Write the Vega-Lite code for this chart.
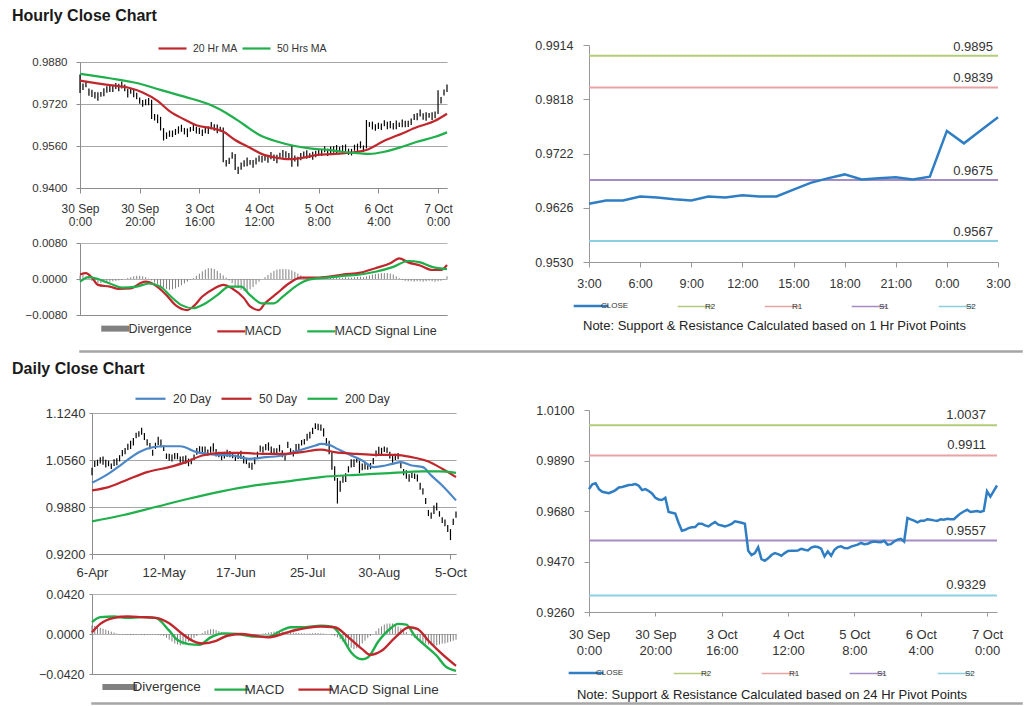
{
"$schema": "https://vega.github.io/schema/vega-lite/v6.json",
"padding": {"left": 12, "top": 8, "right": 2, "bottom": 2},
"background": "white",
"config": {"view": {"stroke": null}, "font": "Liberation Sans",
  "axis": {"domainColor": "#8c8c8c", "tickColor": "#8c8c8c", "labelColor": "#333333", "labelFont": "Liberation Sans"},
  "legend": {"labelFont": "Liberation Sans", "labelColor": "#333333"}},
"datasets": {
"hourly": [
{"i":0,"c":0.9771,"h":0.9832,"l":0.9762,"d":0.0008},{"i":1,"c":0.9791,"h":0.9798,"l":0.9773,"d":0.0010},{"i":2,"c":0.9795,"h":0.9807,"l":0.9784,"d":0.0006},{"i":3,"c":0.9771,"h":0.9779,"l":0.9751,"d":0.0002},{"i":4,"c":0.9760,"h":0.9774,"l":0.9747,"d":-0.0004},{"i":5,"c":0.9757,"h":0.9766,"l":0.9741,"d":-0.0008},{"i":6,"c":0.9754,"h":0.9765,"l":0.9732,"d":-0.0010},{"i":7,"c":0.9760,"h":0.9766,"l":0.9748,"d":-0.0009},{"i":8,"c":0.9767,"h":0.9780,"l":0.9750,"d":-0.0008},{"i":9,"c":0.9778,"h":0.9788,"l":0.9763,"d":-0.0007},
{"i":10,"c":0.9780,"h":0.9790,"l":0.9766,"d":-0.0006},{"i":11,"c":0.9784,"h":0.9791,"l":0.9766,"d":-0.0005},{"i":12,"c":0.9788,"h":0.9800,"l":0.9777,"d":-0.0004},{"i":13,"c":0.9789,"h":0.9797,"l":0.9769,"d":-0.0003},{"i":14,"c":0.9792,"h":0.9806,"l":0.9779,"d":-0.0002},{"i":15,"c":0.9785,"h":0.9794,"l":0.9769,"d":0.0000},{"i":16,"c":0.9767,"h":0.9778,"l":0.9745,"d":0.0002},{"i":17,"c":0.9771,"h":0.9777,"l":0.9759,"d":0.0004},{"i":18,"c":0.9763,"h":0.9776,"l":0.9746,"d":0.0006},{"i":19,"c":0.9753,"h":0.9763,"l":0.9738,"d":0.0007},
{"i":20,"c":0.9735,"h":0.9745,"l":0.9721,"d":0.0007},{"i":21,"c":0.9728,"h":0.9735,"l":0.9710,"d":0.0006},{"i":22,"c":0.9726,"h":0.9738,"l":0.9715,"d":0.0004},{"i":23,"c":0.9735,"h":0.9743,"l":0.9715,"d":0.0001},{"i":24,"c":0.9676,"h":0.9736,"l":0.9663,"d":-0.0003},{"i":25,"c":0.9673,"h":0.9682,"l":0.9657,"d":-0.0008},{"i":26,"c":0.9669,"h":0.9680,"l":0.9647,"d":-0.0012},{"i":27,"c":0.9631,"h":0.9671,"l":0.9619,"d":-0.0016},{"i":28,"c":0.9598,"h":0.9628,"l":0.9581,"d":-0.0019},{"i":29,"c":0.9602,"h":0.9612,"l":0.9587,"d":-0.0022},
{"i":30,"c":0.9609,"h":0.9619,"l":0.9595,"d":-0.0024},{"i":31,"c":0.9612,"h":0.9619,"l":0.9594,"d":-0.0023},{"i":32,"c":0.9613,"h":0.9625,"l":0.9602,"d":-0.0021},{"i":33,"c":0.9627,"h":0.9635,"l":0.9607,"d":-0.0018},{"i":34,"c":0.9627,"h":0.9641,"l":0.9614,"d":-0.0014},{"i":35,"c":0.9620,"h":0.9629,"l":0.9604,"d":-0.0010},{"i":36,"c":0.9616,"h":0.9627,"l":0.9594,"d":-0.0006},{"i":37,"c":0.9626,"h":0.9632,"l":0.9614,"d":-0.0002},{"i":38,"c":0.9634,"h":0.9647,"l":0.9617,"d":0.0002},{"i":39,"c":0.9623,"h":0.9633,"l":0.9608,"d":0.0007},
{"i":40,"c":0.9620,"h":0.9630,"l":0.9606,"d":0.0012},{"i":41,"c":0.9616,"h":0.9623,"l":0.9598,"d":0.0017},{"i":42,"c":0.9620,"h":0.9632,"l":0.9609,"d":0.0021},{"i":43,"c":0.9626,"h":0.9634,"l":0.9606,"d":0.0024},{"i":44,"c":0.9637,"h":0.9651,"l":0.9624,"d":0.0024},{"i":45,"c":0.9634,"h":0.9643,"l":0.9618,"d":0.0022},{"i":46,"c":0.9631,"h":0.9642,"l":0.9609,"d":0.0018},{"i":47,"c":0.9627,"h":0.9633,"l":0.9615,"d":0.0013},{"i":48,"c":0.9515,"h":0.9630,"l":0.9498,"d":0.0008},{"i":49,"c":0.9497,"h":0.9507,"l":0.9482,"d":0.0003},
{"i":50,"c":0.9505,"h":0.9515,"l":0.9491,"d":-0.0003},{"i":51,"c":0.9529,"h":0.9536,"l":0.9511,"d":-0.0009},{"i":52,"c":0.9480,"h":0.9530,"l":0.9469,"d":-0.0015},{"i":53,"c":0.9473,"h":0.9481,"l":0.9453,"d":-0.0020},{"i":54,"c":0.9483,"h":0.9497,"l":0.9470,"d":-0.0024},{"i":55,"c":0.9497,"h":0.9506,"l":0.9481,"d":-0.0027},{"i":56,"c":0.9505,"h":0.9516,"l":0.9483,"d":-0.0026},{"i":57,"c":0.9501,"h":0.9507,"l":0.9489,"d":-0.0023},{"i":58,"c":0.9494,"h":0.9507,"l":0.9477,"d":-0.0018},{"i":59,"c":0.9505,"h":0.9515,"l":0.9490,"d":-0.0012},
{"i":60,"c":0.9514,"h":0.9524,"l":0.9500,"d":-0.0006},{"i":61,"c":0.9515,"h":0.9522,"l":0.9497,"d":0.0000},{"i":62,"c":0.9515,"h":0.9527,"l":0.9504,"d":0.0004},{"i":63,"c":0.9516,"h":0.9524,"l":0.9496,"d":0.0009},{"i":64,"c":0.9523,"h":0.9537,"l":0.9510,"d":0.0014},{"i":65,"c":0.9519,"h":0.9528,"l":0.9503,"d":0.0018},{"i":66,"c":0.9516,"h":0.9527,"l":0.9494,"d":0.0021},{"i":67,"c":0.9528,"h":0.9534,"l":0.9516,"d":0.0022},{"i":68,"c":0.9532,"h":0.9545,"l":0.9515,"d":0.0022},{"i":69,"c":0.9530,"h":0.9540,"l":0.9515,"d":0.0022},
{"i":70,"c":0.9523,"h":0.9533,"l":0.9509,"d":0.0021},{"i":71,"c":0.9491,"h":0.9561,"l":0.9481,"d":0.0019},{"i":72,"c":0.9512,"h":0.9524,"l":0.9501,"d":0.0016},{"i":73,"c":0.9494,"h":0.9519,"l":0.9482,"d":0.0012},{"i":74,"c":0.9519,"h":0.9533,"l":0.9506,"d":0.0008},{"i":75,"c":0.9530,"h":0.9539,"l":0.9514,"d":0.0005},{"i":76,"c":0.9533,"h":0.9544,"l":0.9511,"d":0.0003},{"i":77,"c":0.9526,"h":0.9532,"l":0.9514,"d":0.0002},{"i":78,"c":0.9525,"h":0.9538,"l":0.9508,"d":0.0002},{"i":79,"c":0.9532,"h":0.9542,"l":0.9517,"d":0.0003},
{"i":80,"c":0.9536,"h":0.9546,"l":0.9522,"d":0.0003},{"i":81,"c":0.9540,"h":0.9547,"l":0.9522,"d":0.0004},{"i":82,"c":0.9547,"h":0.9559,"l":0.9536,"d":0.0004},{"i":83,"c":0.9542,"h":0.9550,"l":0.9522,"d":0.0003},{"i":84,"c":0.9544,"h":0.9558,"l":0.9531,"d":0.0003},{"i":85,"c":0.9550,"h":0.9559,"l":0.9534,"d":0.0004},{"i":86,"c":0.9553,"h":0.9564,"l":0.9531,"d":0.0004},{"i":87,"c":0.9551,"h":0.9557,"l":0.9539,"d":0.0003},{"i":88,"c":0.9550,"h":0.9563,"l":0.9533,"d":0.0003},{"i":89,"c":0.9556,"h":0.9566,"l":0.9541,"d":0.0004},
{"i":90,"c":0.9540,"h":0.9550,"l":0.9526,"d":0.0003},{"i":91,"c":0.9542,"h":0.9549,"l":0.9524,"d":0.0003},{"i":92,"c":0.9553,"h":0.9565,"l":0.9542,"d":0.0004},{"i":93,"c":0.9561,"h":0.9569,"l":0.9541,"d":0.0005},{"i":94,"c":0.9564,"h":0.9578,"l":0.9551,"d":0.0005},{"i":95,"c":0.9553,"h":0.9562,"l":0.9537,"d":0.0004},{"i":96,"c":0.9651,"h":0.9659,"l":0.9551,"d":0.0006},{"i":97,"c":0.9645,"h":0.9651,"l":0.9633,"d":0.0008},{"i":98,"c":0.9640,"h":0.9653,"l":0.9623,"d":0.0010},{"i":99,"c":0.9633,"h":0.9643,"l":0.9618,"d":0.0011},
{"i":100,"c":0.9639,"h":0.9649,"l":0.9625,"d":0.0012},{"i":101,"c":0.9639,"h":0.9646,"l":0.9621,"d":0.0013},{"i":102,"c":0.9646,"h":0.9658,"l":0.9635,"d":0.0013},{"i":103,"c":0.9644,"h":0.9652,"l":0.9624,"d":0.0013},{"i":104,"c":0.9641,"h":0.9655,"l":0.9628,"d":0.0012},{"i":105,"c":0.9639,"h":0.9648,"l":0.9623,"d":0.0010},{"i":106,"c":0.9646,"h":0.9657,"l":0.9624,"d":0.0006},{"i":107,"c":0.9644,"h":0.9650,"l":0.9632,"d":0.0002},{"i":108,"c":0.9648,"h":0.9661,"l":0.9631,"d":-0.0002},{"i":109,"c":0.9646,"h":0.9656,"l":0.9631,"d":-0.0004},
{"i":110,"c":0.9646,"h":0.9656,"l":0.9632,"d":-0.0005},{"i":111,"c":0.9658,"h":0.9665,"l":0.9640,"d":-0.0005},{"i":112,"c":0.9670,"h":0.9682,"l":0.9659,"d":-0.0006},{"i":113,"c":0.9678,"h":0.9686,"l":0.9658,"d":-0.0005},{"i":114,"c":0.9685,"h":0.9699,"l":0.9672,"d":-0.0005},{"i":115,"c":0.9676,"h":0.9685,"l":0.9660,"d":-0.0006},{"i":116,"c":0.9678,"h":0.9689,"l":0.9656,"d":-0.0005},{"i":117,"c":0.9680,"h":0.9686,"l":0.9668,"d":-0.0004},{"i":118,"c":0.9676,"h":0.9689,"l":0.9659,"d":-0.0005},{"i":119,"c":0.9681,"h":0.9691,"l":0.9666,"d":-0.0006},
{"i":120,"c":0.9762,"h":0.9772,"l":0.9682,"d":-0.0005},{"i":121,"c":0.9740,"h":0.9747,"l":0.9722,"d":-0.0004},{"i":122,"c":0.9763,"h":0.9775,"l":0.9752,"d":-0.0002},{"i":123,"c":0.9786,"h":0.9794,"l":0.9766,"d":0.0006}
],
"hma": [
{"i":0,"v":0.9809,"s":"20 Hr MA"},{"i":10,"v":0.9792,"s":"20 Hr MA"},{"i":16,"v":0.9783,"s":"20 Hr MA"},{"i":21,"v":0.9764,"s":"20 Hr MA"},{"i":26,"v":0.9732,"s":"20 Hr MA"},{"i":30,"v":0.9693,"s":"20 Hr MA"},{"i":35,"v":0.9661,"s":"20 Hr MA"},{"i":39,"v":0.9639,"s":"20 Hr MA"},{"i":44,"v":0.9628,"s":"20 Hr MA"},{"i":48,"v":0.9615,"s":"20 Hr MA"},{"i":52,"v":0.9583,"s":"20 Hr MA"},{"i":57,"v":0.9553,"s":"20 Hr MA"},{"i":61,"v":0.9529,"s":"20 Hr MA"},{"i":66,"v":0.9515,"s":"20 Hr MA"},{"i":70,"v":0.9510,"s":"20 Hr MA"},{"i":75,"v":0.9516,"s":"20 Hr MA"},{"i":79,"v":0.9525,"s":"20 Hr MA"},{"i":84,"v":0.9529,"s":"20 Hr MA"},{"i":88,"v":0.9532,"s":"20 Hr MA"},{"i":93,"v":0.9538,"s":"20 Hr MA"},{"i":96,"v":0.9545,"s":"20 Hr MA"},{"i":102,"v":0.9580,"s":"20 Hr MA"},{"i":108,"v":0.9608,"s":"20 Hr MA"},{"i":113,"v":0.9632,"s":"20 Hr MA"},{"i":119,"v":0.9656,"s":"20 Hr MA"},{"i":123,"v":0.9683,"s":"20 Hr MA"},
{"i":0,"v":0.9835,"s":"50 Hrs MA"},{"i":10,"v":0.9818,"s":"50 Hrs MA"},{"i":19,"v":0.9800,"s":"50 Hrs MA"},{"i":27,"v":0.9774,"s":"50 Hrs MA"},{"i":35,"v":0.9748,"s":"50 Hrs MA"},{"i":44,"v":0.9715,"s":"50 Hrs MA"},{"i":49,"v":0.9686,"s":"50 Hrs MA"},{"i":55,"v":0.9641,"s":"50 Hrs MA"},{"i":60,"v":0.9603,"s":"50 Hrs MA"},{"i":66,"v":0.9577,"s":"50 Hrs MA"},{"i":72,"v":0.9560,"s":"50 Hrs MA"},{"i":77,"v":0.9551,"s":"50 Hrs MA"},{"i":83,"v":0.9545,"s":"50 Hrs MA"},{"i":88,"v":0.9538,"s":"50 Hrs MA"},{"i":94,"v":0.9532,"s":"50 Hrs MA"},{"i":97,"v":0.9530,"s":"50 Hrs MA"},{"i":102,"v":0.9538,"s":"50 Hrs MA"},{"i":108,"v":0.9557,"s":"50 Hrs MA"},{"i":113,"v":0.9576,"s":"50 Hrs MA"},{"i":119,"v":0.9595,"s":"50 Hrs MA"},{"i":123,"v":0.9612,"s":"50 Hrs MA"}
],
"hmacd": [
{"i":0,"v":0.0010,"s":"MACD"},{"i":2,"v":0.0013,"s":"MACD"},{"i":4,"v":0.0003,"s":"MACD"},{"i":6,"v":-0.0013,"s":"MACD"},{"i":10,"v":-0.0017,"s":"MACD"},{"i":13,"v":-0.0022,"s":"MACD"},{"i":17,"v":-0.0021,"s":"MACD"},{"i":20,"v":-0.0010,"s":"MACD"},{"i":22,"v":-0.0006,"s":"MACD"},{"i":25,"v":-0.0013,"s":"MACD"},{"i":29,"v":-0.0036,"s":"MACD"},{"i":32,"v":-0.0058,"s":"MACD"},{"i":36,"v":-0.0069,"s":"MACD"},{"i":38,"v":-0.0061,"s":"MACD"},{"i":41,"v":-0.0039,"s":"MACD"},{"i":45,"v":-0.0021,"s":"MACD"},{"i":48,"v":-0.0013,"s":"MACD"},{"i":51,"v":-0.0021,"s":"MACD"},{"i":55,"v":-0.0043,"s":"MACD"},{"i":57,"v":-0.0061,"s":"MACD"},{"i":60,"v":-0.0069,"s":"MACD"},{"i":62,"v":-0.0054,"s":"MACD"},{"i":66,"v":-0.0032,"s":"MACD"},{"i":70,"v":-0.0010,"s":"MACD"},{"i":74,"v":0.0003,"s":"MACD"},{"i":77,"v":0.0003,"s":"MACD"},{"i":83,"v":0.0005,"s":"MACD"},{"i":88,"v":0.0010,"s":"MACD"},{"i":94,"v":0.0014,"s":"MACD"},{"i":99,"v":0.0024,"s":"MACD"},{"i":104,"v":0.0035,"s":"MACD"},{"i":107,"v":0.0046,"s":"MACD"},{"i":110,"v":0.0037,"s":"MACD"},{"i":114,"v":0.0030,"s":"MACD"},{"i":118,"v":0.0020,"s":"MACD"},{"i":121,"v":0.0020,"s":"MACD"},{"i":123,"v":0.0031,"s":"MACD"},
{"i":0,"v":-0.0006,"s":"MACD Signal Line"},{"i":3,"v":0.0004,"s":"MACD Signal Line"},{"i":6,"v":0.0000,"s":"MACD Signal Line"},{"i":10,"v":-0.0010,"s":"MACD Signal Line"},{"i":14,"v":-0.0019,"s":"MACD Signal Line"},{"i":19,"v":-0.0017,"s":"MACD Signal Line"},{"i":23,"v":-0.0010,"s":"MACD Signal Line"},{"i":27,"v":-0.0017,"s":"MACD Signal Line"},{"i":30,"v":-0.0036,"s":"MACD Signal Line"},{"i":34,"v":-0.0058,"s":"MACD Signal Line"},{"i":38,"v":-0.0065,"s":"MACD Signal Line"},{"i":41,"v":-0.0058,"s":"MACD Signal Line"},{"i":46,"v":-0.0036,"s":"MACD Signal Line"},{"i":50,"v":-0.0017,"s":"MACD Signal Line"},{"i":54,"v":-0.0017,"s":"MACD Signal Line"},{"i":57,"v":-0.0036,"s":"MACD Signal Line"},{"i":61,"v":-0.0054,"s":"MACD Signal Line"},{"i":65,"v":-0.0054,"s":"MACD Signal Line"},{"i":68,"v":-0.0039,"s":"MACD Signal Line"},{"i":73,"v":-0.0013,"s":"MACD Signal Line"},{"i":77,"v":-0.0001,"s":"MACD Signal Line"},{"i":83,"v":0.0003,"s":"MACD Signal Line"},{"i":88,"v":0.0007,"s":"MACD Signal Line"},{"i":94,"v":0.0010,"s":"MACD Signal Line"},{"i":99,"v":0.0016,"s":"MACD Signal Line"},{"i":105,"v":0.0027,"s":"MACD Signal Line"},{"i":110,"v":0.0040,"s":"MACD Signal Line"},{"i":114,"v":0.0037,"s":"MACD Signal Line"},{"i":118,"v":0.0027,"s":"MACD Signal Line"},{"i":123,"v":0.0022,"s":"MACD Signal Line"}
],
"pivH": [{"name":"R2","v":0.9895},{"name":"R1","v":0.9839},{"name":"S1","v":0.9675},{"name":"S2","v":0.9567}],
"pivD": [{"name":"R2","v":1.0037},{"name":"R1","v":0.9911},{"name":"S1","v":0.9557},{"name":"S2","v":0.9329}],
"daily": [
{"i":0,"c":1.0409,"h":1.0449,"l":1.0340,"d":0.0090},{"i":1,"c":1.0490,"h":1.0550,"l":1.0460,"d":0.0085},{"i":2,"c":1.0535,"h":1.0565,"l":1.0475,"d":0.0075},{"i":3,"c":1.0550,"h":1.0600,"l":1.0510,"d":0.0065},{"i":4,"c":1.0540,"h":1.0610,"l":1.0490,"d":0.0055},{"i":5,"c":1.0522,"h":1.0562,"l":1.0452,"d":0.0045},{"i":6,"c":1.0500,"h":1.0550,"l":1.0470,"d":0.0035},{"i":7,"c":1.0481,"h":1.0511,"l":1.0431,"d":0.0025},{"i":8,"c":1.0512,"h":1.0572,"l":1.0472,"d":0.0015},{"i":9,"c":1.0545,"h":1.0585,"l":1.0485,"d":0.0005},
{"i":10,"c":1.0590,"h":1.0630,"l":1.0540,"d":-0.0005},{"i":11,"c":1.0645,"h":1.0705,"l":1.0615,"d":-0.0008},{"i":12,"c":1.0705,"h":1.0735,"l":1.0645,"d":-0.0010},{"i":13,"c":1.0745,"h":1.0795,"l":1.0705,"d":-0.0010},{"i":14,"c":1.0770,"h":1.0840,"l":1.0720,"d":-0.0012},{"i":15,"c":1.0840,"h":1.0880,"l":1.0770,"d":-0.0010},{"i":16,"c":1.0905,"h":1.0955,"l":1.0875,"d":-0.0008},{"i":17,"c":1.0945,"h":1.0975,"l":1.0895,"d":-0.0008},{"i":18,"c":1.0965,"h":1.1025,"l":1.0925,"d":-0.0010},{"i":19,"c":1.0910,"h":1.0950,"l":1.0850,"d":-0.0012},
{"i":20,"c":1.0820,"h":1.0860,"l":1.0770,"d":-0.0010},{"i":21,"c":1.0745,"h":1.0805,"l":1.0715,"d":-0.0008},{"i":22,"c":1.0680,"h":1.0710,"l":1.0620,"d":-0.0006},{"i":23,"c":1.0760,"h":1.0810,"l":1.0720,"d":-0.0008},{"i":24,"c":1.0827,"h":1.0897,"l":1.0777,"d":-0.0012},{"i":25,"c":1.0815,"h":1.0855,"l":1.0745,"d":-0.0015},{"i":26,"c":1.0720,"h":1.0770,"l":1.0690,"d":-0.0020},{"i":27,"c":1.0625,"h":1.0655,"l":1.0575,"d":-0.0040},{"i":28,"c":1.0590,"h":1.0650,"l":1.0550,"d":-0.0060},{"i":29,"c":1.0600,"h":1.0640,"l":1.0540,"d":-0.0080},
{"i":30,"c":1.0620,"h":1.0660,"l":1.0570,"d":-0.0100},{"i":31,"c":1.0600,"h":1.0660,"l":1.0570,"d":-0.0110},{"i":32,"c":1.0580,"h":1.0610,"l":1.0520,"d":-0.0120},{"i":33,"c":1.0565,"h":1.0615,"l":1.0525,"d":-0.0110},{"i":34,"c":1.0555,"h":1.0625,"l":1.0505,"d":-0.0100},{"i":35,"c":1.0540,"h":1.0580,"l":1.0470,"d":-0.0080},{"i":36,"c":1.0530,"h":1.0580,"l":1.0500,"d":-0.0060},{"i":37,"c":1.0610,"h":1.0640,"l":1.0560,"d":-0.0040},{"i":38,"c":1.0675,"h":1.0735,"l":1.0635,"d":-0.0020},{"i":39,"c":1.0720,"h":1.0760,"l":1.0660,"d":0.0000},
{"i":40,"c":1.0715,"h":1.0755,"l":1.0665,"d":0.0010},{"i":41,"c":1.0695,"h":1.0755,"l":1.0665,"d":0.0030},{"i":42,"c":1.0683,"h":1.0713,"l":1.0623,"d":0.0040},{"i":43,"c":1.0705,"h":1.0755,"l":1.0665,"d":0.0050},{"i":44,"c":1.0731,"h":1.0801,"l":1.0681,"d":0.0050},{"i":45,"c":1.0680,"h":1.0720,"l":1.0610,"d":0.0040},{"i":46,"c":1.0630,"h":1.0680,"l":1.0600,"d":0.0030},{"i":47,"c":1.0605,"h":1.0635,"l":1.0555,"d":0.0020},{"i":48,"c":1.0620,"h":1.0680,"l":1.0580,"d":0.0010},{"i":49,"c":1.0668,"h":1.0708,"l":1.0608,"d":0.0005},
{"i":50,"c":1.0650,"h":1.0690,"l":1.0600,"d":-0.0005},{"i":51,"c":1.0615,"h":1.0675,"l":1.0585,"d":-0.0008},{"i":52,"c":1.0605,"h":1.0635,"l":1.0545,"d":-0.0010},{"i":53,"c":1.0615,"h":1.0665,"l":1.0575,"d":-0.0008},{"i":54,"c":1.0625,"h":1.0695,"l":1.0575,"d":-0.0006},{"i":55,"c":1.0580,"h":1.0620,"l":1.0510,"d":-0.0005},{"i":56,"c":1.0530,"h":1.0580,"l":1.0500,"d":-0.0008},{"i":57,"c":1.0495,"h":1.0525,"l":1.0445,"d":-0.0010},{"i":58,"c":1.0460,"h":1.0520,"l":1.0420,"d":-0.0012},{"i":59,"c":1.0560,"h":1.0600,"l":1.0500,"d":-0.0010},
{"i":60,"c":1.0640,"h":1.0680,"l":1.0590,"d":-0.0005},{"i":61,"c":1.0710,"h":1.0770,"l":1.0680,"d":0.0000},{"i":62,"c":1.0725,"h":1.0755,"l":1.0665,"d":0.0005},{"i":63,"c":1.0740,"h":1.0790,"l":1.0700,"d":0.0010},{"i":64,"c":1.0745,"h":1.0815,"l":1.0695,"d":0.0015},{"i":65,"c":1.0715,"h":1.0755,"l":1.0645,"d":0.0020},{"i":66,"c":1.0680,"h":1.0730,"l":1.0650,"d":0.0025},{"i":67,"c":1.0700,"h":1.0730,"l":1.0650,"d":0.0028},{"i":68,"c":1.0720,"h":1.0780,"l":1.0680,"d":0.0030},{"i":69,"c":1.0660,"h":1.0700,"l":1.0600,"d":0.0028},
{"i":70,"c":1.0601,"h":1.0641,"l":1.0551,"d":0.0025},{"i":71,"c":1.0765,"h":1.0825,"l":1.0735,"d":0.0022},{"i":72,"c":1.0700,"h":1.0730,"l":1.0640,"d":0.0018},{"i":73,"c":1.0650,"h":1.0700,"l":1.0610,"d":0.0015},{"i":74,"c":1.0720,"h":1.0790,"l":1.0670,"d":0.0012},{"i":75,"c":1.0755,"h":1.0795,"l":1.0685,"d":0.0010},{"i":76,"c":1.0800,"h":1.0850,"l":1.0770,"d":0.0008},{"i":77,"c":1.0835,"h":1.0865,"l":1.0785,"d":0.0006},{"i":78,"c":1.0880,"h":1.0940,"l":1.0840,"d":0.0005},{"i":79,"c":1.0930,"h":1.0970,"l":1.0870,"d":0.0006},
{"i":80,"c":1.0985,"h":1.1025,"l":1.0935,"d":0.0008},{"i":81,"c":1.1040,"h":1.1090,"l":1.1010,"d":0.0010},{"i":82,"c":1.1050,"h":1.1085,"l":1.0990,"d":0.0010},{"i":83,"c":1.1025,"h":1.1075,"l":1.0985,"d":0.0008},{"i":84,"c":1.0950,"h":1.1020,"l":1.0900,"d":0.0005},{"i":85,"c":1.0840,"h":1.0880,"l":1.0770,"d":0.0002},{"i":86,"c":1.0673,"h":1.0840,"l":1.0643,"d":0.0000},{"i":87,"c":1.0470,"h":1.0673,"l":1.0420,"d":-0.0010},{"i":88,"c":1.0300,"h":1.0470,"l":1.0260,"d":-0.0020},{"i":89,"c":1.0120,"h":1.0300,"l":0.9930,"d":-0.0035},
{"i":90,"c":1.0200,"h":1.0260,"l":1.0100,"d":-0.0055},{"i":91,"c":1.0290,"h":1.0330,"l":1.0230,"d":-0.0080},{"i":92,"c":1.0313,"h":1.0370,"l":1.0240,"d":-0.0105},{"i":93,"c":1.0420,"h":1.0470,"l":1.0380,"d":-0.0125},{"i":94,"c":1.0500,"h":1.0570,"l":1.0450,"d":-0.0145},{"i":95,"c":1.0530,"h":1.0570,"l":1.0460,"d":-0.0160},{"i":96,"c":1.0553,"h":1.0603,"l":1.0523,"d":-0.0150},{"i":97,"c":1.0420,"h":1.0550,"l":1.0370,"d":-0.0130},{"i":98,"c":1.0450,"h":1.0510,"l":1.0410,"d":-0.0100},{"i":99,"c":1.0481,"h":1.0521,"l":1.0421,"d":-0.0070},
{"i":100,"c":1.0470,"h":1.0510,"l":1.0420,"d":-0.0040},{"i":101,"c":1.0457,"h":1.0517,"l":1.0427,"d":-0.0020},{"i":102,"c":1.0560,"h":1.0590,"l":1.0500,"d":0.0000},{"i":103,"c":1.0649,"h":1.0699,"l":1.0609,"d":0.0030},{"i":104,"c":1.0680,"h":1.0750,"l":1.0630,"d":0.0060},{"i":105,"c":1.0697,"h":1.0737,"l":1.0627,"d":0.0080},{"i":106,"c":1.0705,"h":1.0755,"l":1.0675,"d":0.0100},{"i":107,"c":1.0711,"h":1.0741,"l":1.0661,"d":0.0110},{"i":108,"c":1.0620,"h":1.0680,"l":1.0580,"d":0.0110},{"i":109,"c":1.0580,"h":1.0620,"l":1.0520,"d":0.0110},
{"i":110,"c":1.0610,"h":1.0650,"l":1.0560,"d":0.0100},{"i":111,"c":1.0600,"h":1.0660,"l":1.0570,"d":0.0080},{"i":112,"c":1.0500,"h":1.0530,"l":1.0440,"d":0.0060},{"i":113,"c":1.0380,"h":1.0430,"l":1.0340,"d":0.0040},{"i":114,"c":1.0340,"h":1.0410,"l":1.0290,"d":0.0020},{"i":115,"c":1.0315,"h":1.0355,"l":1.0245,"d":0.0000},{"i":116,"c":1.0330,"h":1.0380,"l":1.0300,"d":-0.0020},{"i":117,"c":1.0335,"h":1.0365,"l":1.0285,"d":-0.0040},{"i":118,"c":1.0290,"h":1.0350,"l":1.0250,"d":-0.0060},{"i":119,"c":1.0190,"h":1.0230,"l":1.0130,"d":-0.0080},
{"i":120,"c":1.0110,"h":1.0150,"l":1.0060,"d":-0.0090},{"i":121,"c":0.9952,"h":1.0012,"l":0.9922,"d":-0.0100},{"i":122,"c":0.9808,"h":0.9838,"l":0.9748,"d":-0.0110},{"i":123,"c":0.9750,"h":0.9800,"l":0.9710,"d":-0.0120},{"i":124,"c":0.9830,"h":0.9900,"l":0.9780,"d":-0.0120},{"i":125,"c":0.9900,"h":0.9940,"l":0.9830,"d":-0.0120},{"i":126,"c":0.9770,"h":0.9820,"l":0.9740,"d":-0.0110},{"i":127,"c":0.9700,"h":0.9730,"l":0.9650,"d":-0.0100},{"i":128,"c":0.9640,"h":0.9700,"l":0.9600,"d":-0.0100},{"i":129,"c":0.9580,"h":0.9620,"l":0.9520,"d":-0.0090},
{"i":130,"c":0.9520,"h":0.9560,"l":0.9400,"d":-0.0080},{"i":131,"c":0.9650,"h":0.9710,"l":0.9620,"d":-0.0070},{"i":132,"c":0.9786,"h":0.9816,"l":0.9726,"d":-0.0060}
],
"dma": [
{"i":0,"v":1.0231,"s":"20 Day"},{"i":5,"v":1.0337,"s":"20 Day"},{"i":11,"v":1.0505,"s":"20 Day"},{"i":17,"v":1.0673,"s":"20 Day"},{"i":22,"v":1.0745,"s":"20 Day"},{"i":26,"v":1.0759,"s":"20 Day"},{"i":32,"v":1.0759,"s":"20 Day"},{"i":38,"v":1.0673,"s":"20 Day"},{"i":45,"v":1.0635,"s":"20 Day"},{"i":51,"v":1.0625,"s":"20 Day"},{"i":57,"v":1.0577,"s":"20 Day"},{"i":63,"v":1.0601,"s":"20 Day"},{"i":69,"v":1.0625,"s":"20 Day"},{"i":75,"v":1.0697,"s":"20 Day"},{"i":81,"v":1.0769,"s":"20 Day"},{"i":83,"v":1.0793,"s":"20 Day"},{"i":86,"v":1.0779,"s":"20 Day"},{"i":89,"v":1.0721,"s":"20 Day"},{"i":94,"v":1.0625,"s":"20 Day"},{"i":98,"v":1.0553,"s":"20 Day"},{"i":102,"v":1.0457,"s":"20 Day"},{"i":105,"v":1.0471,"s":"20 Day"},{"i":109,"v":1.0505,"s":"20 Day"},{"i":112,"v":1.0529,"s":"20 Day"},{"i":116,"v":1.0481,"s":"20 Day"},{"i":120,"v":1.0457,"s":"20 Day"},{"i":123,"v":1.0337,"s":"20 Day"},{"i":127,"v":1.0192,"s":"20 Day"},{"i":132,"v":0.9976,"s":"20 Day"},
{"i":0,"v":1.0120,"s":"50 Day"},{"i":6,"v":1.0168,"s":"50 Day"},{"i":13,"v":1.0279,"s":"50 Day"},{"i":20,"v":1.0385,"s":"50 Day"},{"i":28,"v":1.0457,"s":"50 Day"},{"i":34,"v":1.0529,"s":"50 Day"},{"i":40,"v":1.0625,"s":"50 Day"},{"i":47,"v":1.0663,"s":"50 Day"},{"i":54,"v":1.0663,"s":"50 Day"},{"i":62,"v":1.0649,"s":"50 Day"},{"i":69,"v":1.0649,"s":"50 Day"},{"i":76,"v":1.0673,"s":"50 Day"},{"i":83,"v":1.0711,"s":"50 Day"},{"i":88,"v":1.0673,"s":"50 Day"},{"i":96,"v":1.0649,"s":"50 Day"},{"i":103,"v":1.0635,"s":"50 Day"},{"i":110,"v":1.0635,"s":"50 Day"},{"i":116,"v":1.0601,"s":"50 Day"},{"i":122,"v":1.0538,"s":"50 Day"},{"i":127,"v":1.0433,"s":"50 Day"},{"i":132,"v":1.0313,"s":"50 Day"},
{"i":0,"v":0.9673,"s":"200 Day"},{"i":11,"v":0.9760,"s":"200 Day"},{"i":23,"v":0.9880,"s":"200 Day"},{"i":35,"v":1.0000,"s":"200 Day"},{"i":47,"v":1.0106,"s":"200 Day"},{"i":59,"v":1.0192,"s":"200 Day"},{"i":71,"v":1.0250,"s":"200 Day"},{"i":83,"v":1.0313,"s":"200 Day"},{"i":96,"v":1.0346,"s":"200 Day"},{"i":108,"v":1.0370,"s":"200 Day"},{"i":114,"v":1.0385,"s":"200 Day"},{"i":120,"v":1.0394,"s":"200 Day"},{"i":126,"v":1.0394,"s":"200 Day"},{"i":132,"v":1.0375,"s":"200 Day"}
],
"dmacd": [
{"i":0,"v":0.0124,"s":"MACD"},{"i":3,"v":0.0177,"s":"MACD"},{"i":8,"v":0.0184,"s":"MACD"},{"i":13,"v":0.0169,"s":"MACD"},{"i":18,"v":0.0177,"s":"MACD"},{"i":23,"v":0.0169,"s":"MACD"},{"i":28,"v":0.0035,"s":"MACD"},{"i":31,"v":-0.0064,"s":"MACD"},{"i":35,"v":-0.0106,"s":"MACD"},{"i":39,"v":-0.0113,"s":"MACD"},{"i":43,"v":-0.0035,"s":"MACD"},{"i":48,"v":0.0007,"s":"MACD"},{"i":53,"v":0.0000,"s":"MACD"},{"i":59,"v":-0.0028,"s":"MACD"},{"i":64,"v":-0.0028,"s":"MACD"},{"i":69,"v":0.0042,"s":"MACD"},{"i":72,"v":0.0071,"s":"MACD"},{"i":77,"v":0.0071,"s":"MACD"},{"i":83,"v":0.0088,"s":"MACD"},{"i":87,"v":0.0078,"s":"MACD"},{"i":91,"v":-0.0053,"s":"MACD"},{"i":94,"v":-0.0194,"s":"MACD"},{"i":98,"v":-0.0265,"s":"MACD"},{"i":100,"v":-0.0247,"s":"MACD"},{"i":104,"v":-0.0071,"s":"MACD"},{"i":108,"v":0.0053,"s":"MACD"},{"i":111,"v":0.0106,"s":"MACD"},{"i":114,"v":0.0099,"s":"MACD"},{"i":117,"v":-0.0018,"s":"MACD"},{"i":121,"v":-0.0124,"s":"MACD"},{"i":125,"v":-0.0229,"s":"MACD"},{"i":128,"v":-0.0335,"s":"MACD"},{"i":132,"v":-0.0388,"s":"MACD"},
{"i":0,"v":0.0018,"s":"MACD Signal Line"},{"i":3,"v":0.0106,"s":"MACD Signal Line"},{"i":8,"v":0.0169,"s":"MACD Signal Line"},{"i":13,"v":0.0184,"s":"MACD Signal Line"},{"i":18,"v":0.0177,"s":"MACD Signal Line"},{"i":23,"v":0.0169,"s":"MACD Signal Line"},{"i":28,"v":0.0113,"s":"MACD Signal Line"},{"i":32,"v":0.0018,"s":"MACD Signal Line"},{"i":36,"v":-0.0064,"s":"MACD Signal Line"},{"i":40,"v":-0.0099,"s":"MACD Signal Line"},{"i":45,"v":-0.0071,"s":"MACD Signal Line"},{"i":49,"v":-0.0018,"s":"MACD Signal Line"},{"i":54,"v":0.0000,"s":"MACD Signal Line"},{"i":59,"v":-0.0018,"s":"MACD Signal Line"},{"i":64,"v":-0.0035,"s":"MACD Signal Line"},{"i":69,"v":0.0000,"s":"MACD Signal Line"},{"i":74,"v":0.0042,"s":"MACD Signal Line"},{"i":78,"v":0.0064,"s":"MACD Signal Line"},{"i":83,"v":0.0078,"s":"MACD Signal Line"},{"i":88,"v":0.0071,"s":"MACD Signal Line"},{"i":93,"v":-0.0035,"s":"MACD Signal Line"},{"i":98,"v":-0.0159,"s":"MACD Signal Line"},{"i":101,"v":-0.0219,"s":"MACD Signal Line"},{"i":105,"v":-0.0177,"s":"MACD Signal Line"},{"i":110,"v":-0.0035,"s":"MACD Signal Line"},{"i":115,"v":0.0071,"s":"MACD Signal Line"},{"i":118,"v":0.0053,"s":"MACD Signal Line"},{"i":122,"v":-0.0071,"s":"MACD Signal Line"},{"i":127,"v":-0.0212,"s":"MACD Signal Line"},{"i":132,"v":-0.0335,"s":"MACD Signal Line"}
]
},
"bounds": "flush",
"spacing": 509,
"resolve": {"scale": {"color": "independent"}, "legend": {"color": "independent"}},
"hconcat": [
 {"bounds": "flush", "spacing": 0,
  "resolve": {"scale": {"color": "independent"}, "legend": {"color": "independent"}},
  "vconcat": [
   {"width": 1, "height": 17, "data": {"values": []}, "mark": "point"},
   {"width": 367, "height": 126,
    "title": {"text": "Hourly Close Chart", "anchor": "start", "frame": "group", "dx": -68, "offset": 9, "fontSize": 16, "fontWeight": "bold", "color": "#1a1a1a"},
    "layer": [
      {"data": {"name": "hourly"}, "mark": {"type": "rule", "color": "#000000", "strokeWidth": 1.2},
       "encoding": {
         "x": {"field": "i", "type": "quantitative", "scale": {"domain": [0, 123], "nice": false, "zero": false},
               "axis": {"title": null, "values": [0, 20, 40, 60, 80, 100, 120], "tickCount": 10, "labelExpr": "datum.value == 0 ? ['30 Sep', '0:00'] : datum.value == 20 ? ['30 Sep', '20:00'] : datum.value == 40 ? ['3 Oct', '16:00'] : datum.value == 60 ? ['4 Oct', '12:00'] : datum.value == 80 ? ['5 Oct', '8:00'] : datum.value == 100 ? ['6 Oct', '4:00'] : ['7 Oct', '0:00']", "grid": false, "tickSize": 5, "labelFontSize": 12, "labelLineHeight": 13.5, "labelPadding": 10, "labelOverlap": false, "labelFlush": false}},
         "y": {"field": "l", "type": "quantitative", "scale": {"domain": [0.94, 0.988], "nice": false, "zero": false},
               "axis": {"title": null, "values": [0.94, 0.956, 0.972, 0.988], "tickCount": 6, "format": ".4f", "grid": true, "gridColor": "#a6a6a6", "tickSize": 4, "labelPadding": 9, "labelFontSize": 11.5}},
         "y2": {"field": "h"}}},
      {"data": {"name": "hma"}, "mark": {"type": "line", "strokeWidth": 2.2, "interpolate": "monotone"},
       "encoding": {
         "x": {"field": "i", "type": "quantitative"},
         "y": {"field": "v", "type": "quantitative"},
         "color": {"field": "s", "type": "nominal", "title": null, "scale": {"domain": ["20 Hr MA", "50 Hrs MA"], "range": ["#C0272D", "#1FAF4B"]},
                   "legend": {"orient": "none", "legendX": 77, "legendY": -29, "direction": "horizontal", "title": null, "symbolType": "stroke", "symbolSize": 784, "symbolStrokeWidth": 2.2, "labelFontSize": 10.5, "labelOffset": 5, "columnPadding": 0}}}}
    ]},
   {"width": 1, "height": 55, "data": {"values": []}, "mark": "point"},
   {"width": 367, "height": 72,
    "layer": [
      {"data": {"name": "hourly"}, "mark": {"type": "rule", "strokeWidth": 1},
       "encoding": {
         "x": {"field": "i", "type": "quantitative", "scale": {"domain": [0, 123], "nice": false, "zero": false},
               "axis": {"title": null, "labels": false, "ticks": false, "grid": false}},
         "y": {"field": "d", "type": "quantitative", "scale": {"domain": [-0.008, 0.008], "nice": false},
               "axis": {"title": null, "values": [-0.008, 0, 0.008], "tickCount": 5, "format": ".4f", "grid": true, "gridColor": "#b3b3b3", "tickSize": 4, "labelPadding": 9, "labelFontSize": 11.5}},
         "y2": {"datum": 0},
         "color": {"datum": "Divergence", "type": "nominal", "title": null, "scale": {"domain": ["Divergence", "MACD", "MACD Signal Line"], "range": ["#808080", "#C0272D", "#1FAF4B"]},
                   "legend": {"orient": "none", "legendX": 29, "legendY": 79, "direction": "horizontal", "title": null, "symbolType": "stroke", "symbolSize": 784, "labelFontSize": 12.5, "labelOffset": 7, "columnPadding": 20,
                              "encode": {"symbols": {"update": {"strokeWidth": {"signal": "datum.value === 'Divergence' ? 6 : 2.2"}}}}}}}},
      {"data": {"name": "hmacd"}, "mark": {"type": "line", "strokeWidth": 2.2, "interpolate": "monotone"},
       "encoding": {
         "x": {"field": "i", "type": "quantitative"},
         "y": {"field": "v", "type": "quantitative"},
         "color": {"field": "s", "type": "nominal", "title": null}}}
    ]},
   {"width": 1, "height": 36, "data": {"values": []}, "mark": "point"},
   {"width": 942, "height": 1, "data": {"values": []}, "mark": "point", "view": {"stroke": "#a6a6a6", "strokeWidth": 1.5}},
   {"width": 1, "height": 61, "data": {"values": []}, "mark": "point"},
   {"bounds": "flush", "spacing": 11,
    "resolve": {"scale": {"color": "independent"}, "legend": {"color": "independent"}},
    "hconcat": [
     {"width": 1, "height": 1, "data": {"values": []}, "mark": "point"},
     {"bounds": "flush", "spacing": 0,
      "resolve": {"scale": {"color": "independent"}, "legend": {"color": "independent"}},
      "vconcat": [
       {"width": 364, "height": 141,
        "title": {"text": "Daily Close Chart", "anchor": "start", "frame": "group", "dx": -80, "offset": 5, "fontSize": 16, "fontWeight": "bold", "color": "#1a1a1a"},
        "layer": [
          {"data": {"name": "daily"}, "mark": {"type": "rule", "color": "#000000", "strokeWidth": 1.2},
           "encoding": {
             "x": {"field": "i", "type": "quantitative", "scale": {"domain": [0, 132], "nice": false, "zero": false},
                   "axis": {"title": null, "values": [0, 26, 52, 78, 104, 130], "tickCount": 10, "labelExpr": "datum.value == 0 ? '6-Apr' : datum.value == 26 ? '12-May' : datum.value == 52 ? '17-Jun' : datum.value == 78 ? '25-Jul' : datum.value == 104 ? '30-Aug' : '5-Oct'", "grid": false, "tickSize": 5, "labelFontSize": 13, "labelPadding": 7, "labelOverlap": false, "labelFlush": false}},
             "y": {"field": "l", "type": "quantitative", "scale": {"domain": [0.92, 1.124], "nice": false, "zero": false},
                   "axis": {"title": null, "values": [0.92, 0.988, 1.056, 1.124], "tickCount": 6, "format": ".4f", "grid": true, "gridColor": "#a6a6a6", "tickSize": 3, "labelPadding": 4, "labelFontSize": 13}},
             "y2": {"field": "h"}}},
          {"data": {"name": "dma"}, "mark": {"type": "line", "strokeWidth": 2.2, "interpolate": "monotone"},
           "encoding": {
             "x": {"field": "i", "type": "quantitative"},
             "y": {"field": "v", "type": "quantitative"},
             "color": {"field": "s", "type": "nominal", "title": null, "scale": {"domain": ["20 Day", "50 Day", "200 Day"], "range": ["#4B86C6", "#C0272D", "#1FAF4B"]},
                       "legend": {"orient": "none", "legendX": 42, "legendY": -31, "direction": "horizontal", "title": null, "symbolType": "stroke", "symbolSize": 900, "symbolStrokeWidth": 2.2, "labelFontSize": 12, "labelOffset": 6, "columnPadding": 5}}}}
        ]},
       {"width": 1, "height": 40, "data": {"values": []}, "mark": "point"},
       {"width": 364, "height": 80,
        "layer": [
          {"data": {"name": "daily"}, "mark": {"type": "rule", "strokeWidth": 1},
           "encoding": {
             "x": {"field": "i", "type": "quantitative", "scale": {"domain": [0, 132], "nice": false, "zero": false},
                   "axis": {"title": null, "labels": false, "ticks": false, "grid": false}},
             "y": {"field": "d", "type": "quantitative", "scale": {"domain": [-0.042, 0.042], "nice": false},
                   "axis": {"title": null, "values": [-0.042, 0, 0.042], "tickCount": 5, "format": ".4f", "grid": true, "gridColor": "#b3b3b3", "tickSize": 3, "labelPadding": 5, "labelFontSize": 12.5}},
             "y2": {"datum": 0},
             "color": {"datum": "Divergence", "type": "nominal", "title": null, "scale": {"domain": ["Divergence", "MACD", "MACD Signal Line"], "range": ["#808080", "#1FAF4B", "#C0272D"]},
                       "legend": {"orient": "none", "legendX": 21, "legendY": 86, "direction": "horizontal", "title": null, "symbolType": "stroke", "symbolSize": 1200, "labelFontSize": 13.5, "labelOffset": 6, "columnPadding": 9,
                                  "encode": {"symbols": {"update": {"strokeWidth": {"signal": "datum.value === 'Divergence' ? 6 : 2.2"}}}}}}}},
          {"data": {"name": "dmacd"}, "mark": {"type": "line", "strokeWidth": 2.4, "interpolate": "monotone"},
           "encoding": {
             "x": {"field": "i", "type": "quantitative"},
             "y": {"field": "v", "type": "quantitative"},
             "color": {"field": "s", "type": "nominal", "title": null}}}
        ]},
       {"width": 1, "height": 29, "data": {"values": []}, "mark": "point"},
       {"width": 930, "height": 1, "data": {"values": []}, "mark": "point", "view": {"stroke": "#a6a6a6", "strokeWidth": 1.5}}
      ]}
    ]}
  ]},
 {"bounds": "flush", "spacing": 148,
  "resolve": {"scale": {"color": "independent"}, "legend": {"color": "independent"}},
  "vconcat": [
   {"width": 409, "height": 217,
    "title": {"text": "Note: Support & Resistance Calculated based on 1 Hr Pivot Points", "orient": "bottom", "anchor": "middle", "frame": "group", "dx": -19, "offset": 9, "fontSize": 13, "fontWeight": "normal", "color": "#222222"},
    "layer": [
      {"data": {"name": "pivH"}, "mark": {"type": "rule", "strokeWidth": 2},
       "encoding": {
         "y": {"field": "v", "type": "quantitative", "scale": {"domain": [0.953, 0.9914], "nice": false, "zero": false},
               "axis": {"title": null, "values": [0.953, 0.9626, 0.9722, 0.9818, 0.9914], "tickCount": 8, "format": ".4f", "grid": false, "tickSize": 6, "labelPadding": 10, "labelFontSize": 12.5, "domainColor": "#999999", "tickColor": "#999999"}},
         "color": {"field": "name", "type": "nominal", "title": null, "scale": {"domain": ["CLOSE", "R2", "R1", "S1", "S2"], "range": ["#2F7EC4", "#B2CC7A", "#E8A4A4", "#A48CC6", "#8DCFE2"]},
                   "legend": {"orient": "none", "legendX": -2, "legendY": 257, "direction": "horizontal", "title": null, "symbolType": "stroke", "symbolSize": 1200, "labelFontSize": 8, "labelOffset": 6, "columnPadding": 45,
                              "encode": {"symbols": {"update": {"strokeWidth": {"signal": "datum.value === 'CLOSE' ? 2.5 : 1.5"}}}}}}}},
      {"data": {"name": "pivH"}, "mark": {"type": "text", "align": "right", "baseline": "alphabetic", "dx": -5, "dy": -5, "fontSize": 13, "color": "#333333"},
       "encoding": {
         "x": {"datum": 123, "type": "quantitative", "scale": {"domain": [99, 123], "nice": false, "zero": false}},
         "y": {"field": "v", "type": "quantitative"},
         "text": {"field": "v", "type": "quantitative", "format": ".4f"}}},
      {"data": {"name": "hourly"}, "transform": [{"filter": "datum.i >= 99"}], "mark": {"type": "line", "strokeWidth": 2.5},
       "encoding": {
         "x": {"field": "i", "type": "quantitative", "scale": {"domain": [99, 123], "nice": false, "zero": false},
               "axis": {"title": null, "values": [99, 102, 105, 108, 111, 114, 117, 120, 123], "tickCount": 12, "labelExpr": "((datum.value - 96) % 24) + ':00'", "grid": false, "tickSize": 5, "labelFontSize": 12.5, "labelPadding": 10, "labelOverlap": false, "labelFlush": false, "domainColor": "#999999", "tickColor": "#999999"}},
         "y": {"field": "c", "type": "quantitative"},
         "color": {"datum": "CLOSE", "type": "nominal", "title": null}}}
    ]},
   {"width": 408, "height": 202,
    "title": {"text": "Note: Support & Resistance Calculated based on 24 Hr Pivot Points", "orient": "bottom", "anchor": "middle", "frame": "group", "dx": -21, "offset": 11, "fontSize": 13, "fontWeight": "normal", "color": "#222222"},
    "layer": [
      {"data": {"name": "pivD"}, "mark": {"type": "rule", "strokeWidth": 2},
       "encoding": {
         "y": {"field": "v", "type": "quantitative", "scale": {"domain": [0.926, 1.01], "nice": false, "zero": false},
               "axis": {"title": null, "values": [0.926, 0.947, 0.968, 0.989, 1.01], "tickCount": 8, "format": ".4f", "grid": false, "tickSize": 5, "labelPadding": 10, "labelFontSize": 12.5, "domainColor": "#999999", "tickColor": "#999999"}},
         "color": {"field": "name", "type": "nominal", "title": null, "scale": {"domain": ["CLOSE", "R2", "R1", "S1", "S2"], "range": ["#2F7EC4", "#B2CC7A", "#E8A4A4", "#A48CC6", "#8DCFE2"]},
                   "legend": {"orient": "none", "legendX": -7, "legendY": 259, "direction": "horizontal", "title": null, "symbolType": "stroke", "symbolSize": 1200, "labelFontSize": 8, "labelOffset": 6, "columnPadding": 46,
                              "encode": {"symbols": {"update": {"strokeWidth": {"signal": "datum.value === 'CLOSE' ? 2.5 : 1.5"}}}}}}}},
      {"data": {"name": "pivD"}, "mark": {"type": "text", "align": "right", "baseline": "alphabetic", "dx": -11, "dy": -6, "fontSize": 13, "color": "#333333"},
       "encoding": {
         "x": {"datum": 123, "type": "quantitative", "scale": {"domain": [0, 123], "nice": false, "zero": false}},
         "y": {"field": "v", "type": "quantitative"},
         "text": {"field": "v", "type": "quantitative", "format": ".4f"}}},
      {"data": {"name": "hourly"}, "mark": {"type": "line", "strokeWidth": 2.5},
       "encoding": {
         "x": {"field": "i", "type": "quantitative", "scale": {"domain": [0, 123], "nice": false, "zero": false},
               "axis": {"title": null, "values": [0, 20, 40, 60, 80, 100, 120], "tickCount": 10, "labelExpr": "datum.value == 0 ? ['30 Sep', '0:00'] : datum.value == 20 ? ['30 Sep', '20:00'] : datum.value == 40 ? ['3 Oct', '16:00'] : datum.value == 60 ? ['4 Oct', '12:00'] : datum.value == 80 ? ['5 Oct', '8:00'] : datum.value == 100 ? ['6 Oct', '4:00'] : ['7 Oct', '0:00']", "grid": false, "tickSize": 4, "labelFontSize": 13, "labelLineHeight": 16, "labelPadding": 12, "labelOverlap": false, "labelFlush": false, "domainColor": "#999999", "tickColor": "#999999"}},
         "y": {"field": "c", "type": "quantitative"},
         "color": {"datum": "CLOSE", "type": "nominal", "title": null}}}
    ]}
  ]}
]
}
